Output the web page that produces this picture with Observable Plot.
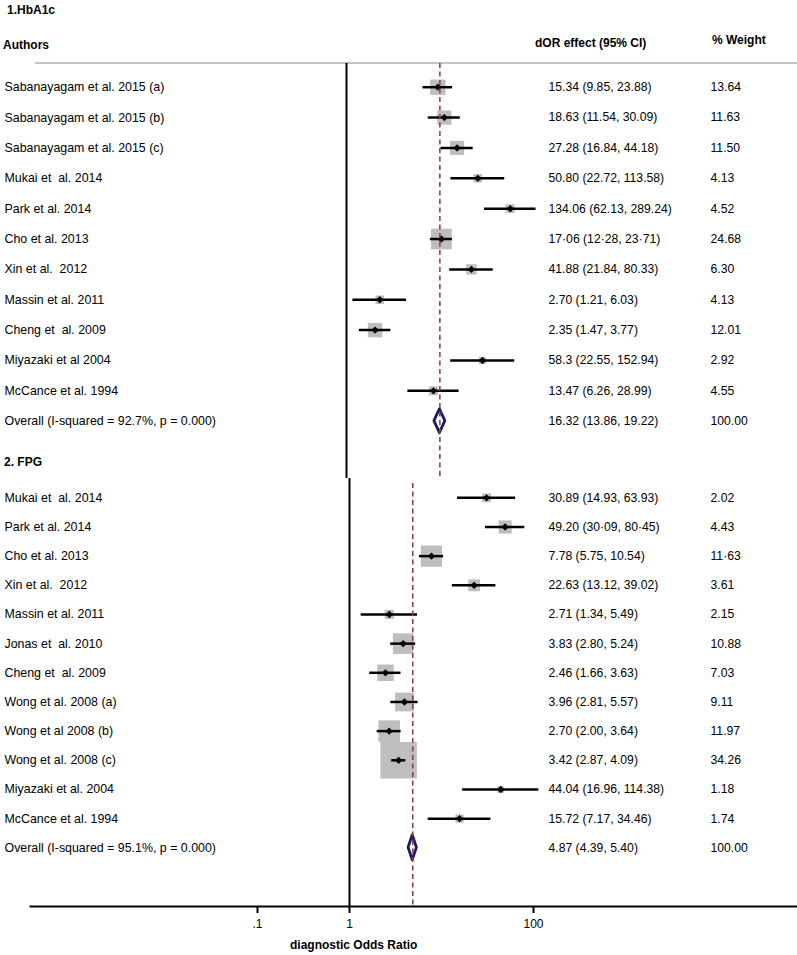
<!DOCTYPE html>
<html><head><meta charset="utf-8">
<script src="https://cdn.jsdelivr.net/npm/d3@7"></script>
<script src="https://cdn.jsdelivr.net/npm/@observablehq/plot@0.6"></script>
<style>
body{margin:0;background:#fff;font-family:Arial,"Liberation Sans",sans-serif;}
#wrap{position:relative;width:797px;height:955px;overflow:hidden;}
.t{position:absolute;font-size:12px;line-height:14px;color:#000;white-space:pre;}
.b{font-weight:bold;}
#wrap svg{position:absolute;left:0;}
#wrap svg text{white-space:pre;}
.rule{position:absolute;left:35px;top:62px;width:762px;height:2px;background:#c4c4c4;}
</style></head><body>
<div id="wrap">
  <div class="rule"></div>
  <div class="t b" style="left:7px;top:3px">1.HbA1c</div>
  <div class="t b" style="left:3px;top:38px">Authors</div>
  <div class="t b" style="left:535px;top:36px">dOR effect (95% CI)</div>
  <div class="t b" style="left:712px;top:33px">% Weight</div>
  <div class="t b" style="left:4px;top:455px">2. FPG</div>
  <div class="t b" style="left:290px;top:938px">diagnostic Odds Ratio</div>
</div>
<script>
// ---- HbA1c panel ----
const hbaStudies = ["Sabanayagam et al. 2015 (a)","Sabanayagam et al. 2015 (b)","Sabanayagam et al. 2015 (c)","Mukai et  al. 2014","Park et al. 2014","Cho et al. 2013","Xin et al.  2012","Massin et al. 2011","Cheng et  al. 2009","Miyazaki et al 2004","McCance et al. 1994","Overall (I-squared = 92.7%, p = 0.000)"];
const hbaEstimate = [15.34, 18.63, 27.28, 50.80, 134.06, 17.06, 41.88, 2.70, 2.35, 58.3, 13.47, 16.32];
const hbaLower = [9.85, 11.54, 16.84, 22.72, 62.13, 12.28, 21.84, 1.21, 1.47, 22.55, 6.26, 13.86];
const hbaUpper = [23.88, 30.09, 44.18, 113.58, 289.24, 23.71, 80.33, 6.03, 3.77, 152.94, 28.99, 19.22];
const hbaWeight = [13.64, 11.63, 11.50, 4.13, 4.52, 24.68, 6.30, 4.13, 12.01, 2.92, 4.55, 100.00];
const hbaEffectLabels = ["15.34 (9.85, 23.88)","18.63 (11.54, 30.09)","27.28 (16.84, 44.18)","50.80 (22.72, 113.58)","134.06 (62.13, 289.24)","17\u00b706 (12\u00b728, 23\u00b771)","41.88 (21.84, 80.33)","2.70 (1.21, 6.03)","2.35 (1.47, 3.77)","58.3 (22.55, 152.94)","13.47 (6.26, 28.99)","16.32 (13.86, 19.22)"];
const hbaWeightLabels = ["13.64","11.63","11.50","4.13","4.52","24.68","6.30","4.13","12.01","2.92","4.55","100.00"];

// ---- FPG panel ----
const fpgStudies = ["Mukai et  al. 2014","Park et al. 2014","Cho et al. 2013","Xin et al.  2012","Massin et al. 2011","Jonas et  al. 2010","Cheng et  al. 2009","Wong et al. 2008 (a)","Wong et al 2008 (b)","Wong et al. 2008 (c)","Miyazaki et al. 2004","McCance et al. 1994","Overall (I-squared = 95.1%, p = 0.000)"];
const fpgEstimate = [30.89, 49.20, 7.78, 22.63, 2.71, 3.83, 2.46, 3.96, 2.70, 3.42, 44.04, 15.72, 4.87];
const fpgLower = [14.93, 30.09, 5.75, 13.12, 1.34, 2.80, 1.66, 2.81, 2.00, 2.87, 16.96, 7.17, 4.39];
const fpgUpper = [63.93, 80.45, 10.54, 39.02, 5.49, 5.24, 3.63, 5.57, 3.64, 4.09, 114.38, 34.46, 5.40];
const fpgWeight = [2.02, 4.43, 11.63, 3.61, 2.15, 10.88, 7.03, 9.11, 11.97, 34.26, 1.18, 1.74, 100.00];
const fpgEffectLabels = ["30.89 (14.93, 63.93)","49.20 (30\u00b709, 80\u00b745)","7.78 (5.75, 10.54)","22.63 (13.12, 39.02)","2.71 (1.34, 5.49)","3.83 (2.80, 5.24)","2.46 (1.66, 3.63)","3.96 (2.81, 5.57)","2.70 (2.00, 3.64)","3.42 (2.87, 4.09)","44.04 (16.96, 114.38)","15.72 (7.17, 34.46)","4.87 (4.39, 5.40)"];
const fpgWeightLabels = ["2.02","4.43","11\u00b763","3.61","2.15","10.88","7.03","9.11","11.97","34.26","1.18","1.74","100.00"];

const xTicks = [0.1, 1, 100];
const xTickLabels = [".1", "1", "100"];

function rows(studies, est, lo, hi, w, effL, wL) {
  return studies.map((s, i) => ({row: i + 1, study: s, est: est[i], lo: lo[i], hi: hi[i], w: w[i], eff: effL[i], wl: wL[i], overall: i === studies.length - 1}));
}
const hba = rows(hbaStudies, hbaEstimate, hbaLower, hbaUpper, hbaWeight, hbaEffectLabels, hbaWeightLabels);
const fpg = rows(fpgStudies, fpgEstimate, fpgLower, fpgUpper, fpgWeight, fpgEffectLabels, fpgWeightLabels);

function diamond(o, h) {
  return [
    {x: o.lo, y1: o.row, y2: o.row},
    {x: o.est, y1: o.row - h, y2: o.row + h},
    {x: o.hi, y1: o.row, y2: o.row}
  ];
}

function panelMarks(data, h, dashInset) {
  const studies = data.filter(d => !d.overall);
  const overall = data.find(d => d.overall);
  return [
    Plot.ruleX([1], {stroke: "#000", strokeWidth: 2}),
    Plot.dot(studies, {x: "est", y: "row", r: "w", symbol: "square", fill: "#bebebe", stroke: "none"}),
    Plot.ruleY(studies, {y: "row", x1: "lo", x2: "hi", stroke: "#000", strokeWidth: 2.5}),
    Plot.dot(studies, {x: "est", y: "row", symbol: "diamond2", r: 3.3, fill: "#000", stroke: "none"}),
    Plot.areaY(diamond(overall, h), {x: "x", y1: "y1", y2: "y2", fill: "#fff", stroke: "#1b1b5e", strokeWidth: 2.8, curve: "linear"}),
    Plot.ruleX([overall.est], {stroke: "#8b4343", strokeWidth: 1.6, strokeDasharray: "5,3.5", insetTop: dashInset}),
    Plot.text(data, {y: "row", text: "study", frameAnchor: "left", textAnchor: "start", dx: 4, fontSize: 12.4, fill: "#000"}),
    Plot.text(data, {y: "row", text: "eff", frameAnchor: "left", textAnchor: "start", dx: 548, fontSize: 12.2, fill: "#000"}),
    Plot.text(data, {y: "row", text: "wl", frameAnchor: "left", textAnchor: "start", dx: 710, fontSize: 12.2, fill: "#000"})
  ];
}

const plotStyle = {fontFamily: "Arial, 'Liberation Sans', sans-serif", fontSize: "12px", background: "transparent", overflow: "visible"};

const topPanel = Plot.plot({
  width: 797, height: 478,
  marginTop: 63, marginBottom: 0, marginLeft: 0, marginRight: 0,
  style: plotStyle,
  x: {type: "log", domain: [0.1, 1000], range: [346 - 77, 346 + 3 * 77], axis: null},
  y: {type: "linear", domain: [1, 12], range: [86.7, 420.7], axis: null},
  r: {type: "sqrt", domain: [0, 24.68], range: [0, 11.7]},
  marks: panelMarks(hba, 0.395, 0)
});
topPanel.style.top = "0px";

const bottomPanel = Plot.plot({
  width: 797, height: 477,
  marginTop: 0, marginBottom: 49, marginLeft: 0, marginRight: 0,
  style: plotStyle,
  x: {type: "log", domain: [0.1, 1000], range: [349 - 92, 349 + 3 * 92]},
  y: {type: "linear", domain: [1, 13], range: [19.3, 369.3], axis: null},
  r: {type: "sqrt", domain: [0, 34.26], range: [0, 20.6]},
  marks: [
    ...panelMarks(fpg, 0.43, 5),
    Plot.frame({anchor: "bottom", stroke: "#000", strokeWidth: 2, insetLeft: 30}),
    Plot.axisX({ticks: xTicks, tickFormat: d => xTickLabels[xTicks.indexOf(d)], tickSize: 7, tickPadding: 6, strokeWidth: 2, fontSize: 12, label: null})
  ]
});
bottomPanel.style.top = "478px";

const wrap = document.getElementById("wrap");
wrap.appendChild(topPanel);
wrap.appendChild(bottomPanel);
</script>
</body></html>
